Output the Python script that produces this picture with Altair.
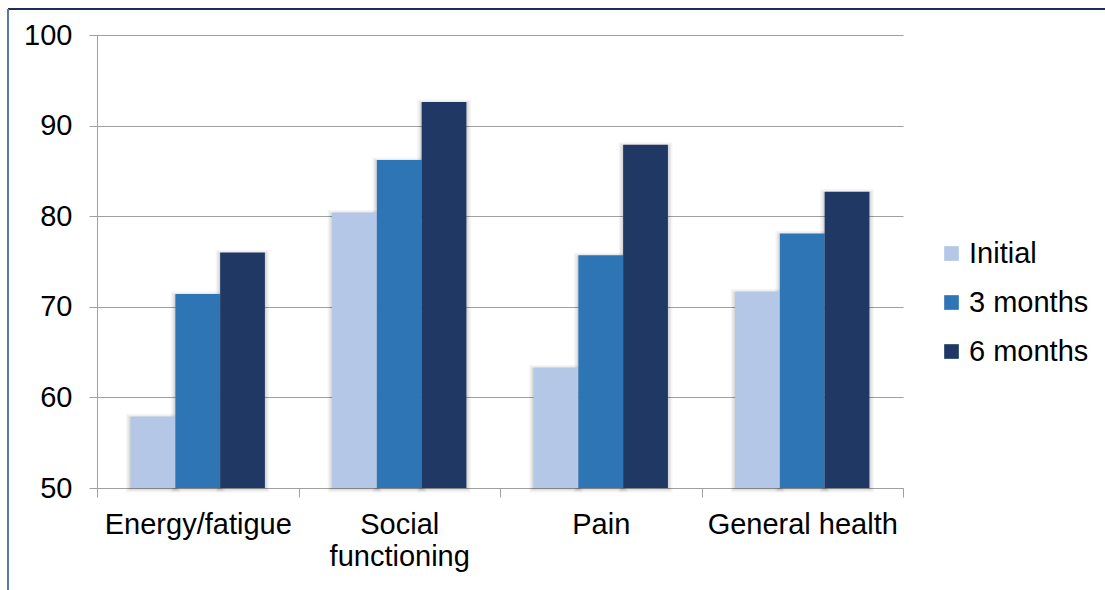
import altair as alt
import pandas as pd

# SF-36 domain scores at each assessment point
domains = ["Energy/fatigue", "Social\nfunctioning", "Pain", "General health"]
periods = ["Initial", "3 months", "6 months"]
initial = [57.9, 80.4, 63.3, 71.7]
three_months = [71.4, 86.2, 75.7, 78.1]
six_months = [76.0, 92.6, 87.9, 82.7]

colors = ["#B4C7E7", "#2E75B6", "#1F3864"]
y_ticks = [50, 60, 70, 80, 90, 100]

rows = []
for series, vals in zip(periods, [initial, three_months, six_months]):
    for d, v in zip(domains, vals):
        rows.append({"domain": d, "period": series, "score": v})
df = pd.DataFrame(rows)

FONT = "Liberation Sans"
FS = 29
GREY = "#A0A0A0"

# categories fill the whole band so the axis ticks fall on the band edges;
# the bar cluster is narrowed through the offset scale's outer padding
x_enc = alt.X(
    "domain:N",
    sort=domains,
    title=None,
    scale=alt.Scale(paddingInner=0, paddingOuter=0),
    axis=alt.Axis(
        labelAngle=0,
        labelExpr="split(datum.label, '\\n')",
        labelFontSize=FS,
        labelFont=FONT,
        labelColor="#000000",
        labelLineHeight=32,
        labelPadding=13,
        labelBaseline="top",
        labelLimit=400,
        tickBand="extent",
        tickSize=9,
        tickColor=GREY,
        domainColor=GREY,
        grid=False,
    ),
)
xo_enc = alt.XOffset(
    "period:N", sort=periods, scale=alt.Scale(paddingInner=0, paddingOuter=0.75)
)
y_enc = alt.Y(
    "score:Q",
    title=None,
    scale=alt.Scale(domain=[50, 100], zero=False, nice=False),
    axis=alt.Axis(
        values=y_ticks,
        labelFontSize=FS,
        labelFont=FONT,
        labelColor="#000000",
        labelPadding=17,
        tickSize=8,
        tickColor=GREY,
        domainColor=GREY,
        gridColor=GREY,
        gridWidth=1,
    ),
)
y2_enc = alt.Y2(datum=50)

base = alt.Chart(df)

# soft drop shadow behind each bar
shadows = [
    base.mark_bar(fillOpacity=0, stroke="#000000", strokeOpacity=op, strokeWidth=sw, yOffset=2, xOffset=1)
    .encode(x=x_enc, xOffset=xo_enc, y=y_enc, y2=y2_enc)
    for sw, op in [(9, 0.04), (6, 0.05), (3, 0.07)]
]

bars = base.mark_bar(strokeWidth=0).encode(
    x=x_enc,
    xOffset=xo_enc,
    y=y_enc,
    y2=y2_enc,
    color=alt.Color(
        "period:N",
        sort=periods,
        scale=alt.Scale(domain=periods, range=colors),
        legend=alt.Legend(
            title=None,
            orient="none",
            legendX=840,
            legendY=204,
            padding=0,
            symbolType="square",
            symbolSize=215,
            symbolStrokeWidth=0,
            labelFontSize=FS,
            labelFont=FONT,
            labelColor="#000000",
            labelOffset=3,
            rowPadding=19,
        ),
    ),
)

# outer frame of the figure
frame_top = alt.Chart().mark_rule(color="#1F2D5C", strokeWidth=2).encode(
    x=alt.value(-89), x2=alt.value(1100), y=alt.value(-26)
)
frame_left = alt.Chart().mark_rule(color="#5A78AE", strokeWidth=2).encode(
    x=alt.value(-89), y=alt.value(-26), y2=alt.value(600)
)

chart = (
    alt.layer(*shadows, bars, frame_top, frame_left)
    .properties(
        width=806,
        height=453,
        autosize=alt.AutoSizeParams(type="none"),
        padding={"left": 97, "top": 35, "right": 202, "bottom": 102},
        background="#FFFFFF",
    )
    .configure_view(stroke=None)
)

chart.save("out.html", embed_options={"renderer": "svg", "actions": False})
